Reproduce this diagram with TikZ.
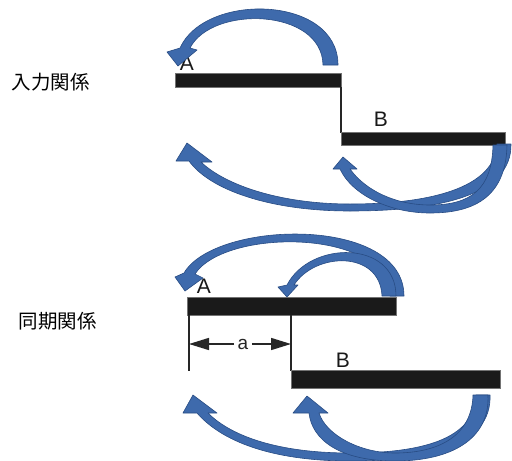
\documentclass[tikz,border=0pt]{standalone}
\usepackage{fontspec}
\setmainfont{Liberation Sans}
\newfontfamily\jp{Noto Sans CJK JP}
\usetikzlibrary{arrows.meta}
\definecolor{arrowblue}{RGB}{62,106,172}
\definecolor{arrowedge}{RGB}{40,76,132}
\definecolor{barfill}{RGB}{26,26,26}
\tikzset{
  blob/.style={fill=arrowblue, draw=arrowedge, line width=0.6pt, line join=round},
  bar/.style={fill=barfill, draw=black!55, line width=0.6pt},
  lead/.style={draw=black!85, line width=1.6pt},
  lbl/.style={font=\fontsize{21}{22}\selectfont, text=black!90, inner sep=0pt},
  jplbl/.style={font=\jp\fontsize{19.5}{21}\selectfont, inner sep=0pt},
  dim/.style={draw=black!85, line width=1.5pt, -{Triangle[length=20pt,width=12pt]}}
}
\begin{document}
\begin{tikzpicture}[x=1pt,y=-1pt]
\useasboundingbox (0,0) rectangle (512,461);
\fill[white] (0,0) rectangle (512,461);

% ---------- labels on the left ----------
\node[jplbl] (t1) at (51,82) {入力関係};
\node[jplbl] (t2) at (58,321) {同期関係};

% ---------- top diagram ----------
\node[lbl] (A1) at (187,63) {A};
\node[lbl] (B1) at (381,119) {B};
\fill[bar] (175,73) rectangle (341,87);
\draw[lead] (341,87) -- (341,133);
\fill[bar] (341,132) rectangle (505,145);

% top arc arrow
\path[blob] (338,65) .. controls (338,-5) and (205,-8) .. (180,48)
  -- (167,52) -- (178,66) -- (197,50) -- (190,48)
  .. controls (212,5) and (322,8) .. (323,65) -- cycle;
% big lower arrow
\path[blob] (511,144) .. controls (512,195) and (440,211) .. (350,211)
  .. controls (270,211) and (210,190) .. (189,161)
  -- (176,161) -- (187,143) -- (212,162) -- (201,162)
  .. controls (225,185) and (280,204) .. (350,204)
  .. controls (430,204) and (495,188) .. (497,144) -- cycle;
% small lower arrow
\path[blob] (507,145) .. controls (506,200) and (470,213) .. (430,213)
  .. controls (390,213) and (352,195) .. (340,169)
  -- (333,169) -- (343,157) -- (357,169) -- (350,169)
  .. controls (365,190) and (395,205) .. (430,205)
  .. controls (470,205) and (492,190) .. (493,145) -- cycle;

% ---------- bottom diagram ----------
\node[lbl] (A2) at (204,286) {A};
\node[lbl] (B2) at (343,360) {B};
\fill[bar] (187,297) rectangle (396,315);
\draw[lead] (189,315) -- (189,371);
\draw[lead] (291,315) -- (291,371);
\fill[bar] (291,370) rectangle (500,388);
\node[font=\fontsize{19}{20}\selectfont, text=black!85, inner sep=3.5pt] (a) at (243,344) {a};
\coordinate (aL) at (189,344);
\coordinate (aR) at (291,344);
\draw[dim] (a.west) -- (aL);
\draw[dim] (a.east) -- (aR);

% big top arrow
\path[blob] (404,296) .. controls (404,215) and (215,220) .. (184,273)
  -- (175,277) -- (185,291) -- (203,278) -- (195,274)
  .. controls (225,228) and (388,228) .. (390,296) -- cycle;
% small top arrow
\path[blob] (396,296) .. controls (396,240) and (310,240) .. (287,285)
  -- (278,287) -- (287,297) -- (298,285) -- (294,285)
  .. controls (315,252) and (380,250) .. (382,296) -- cycle;
% big bottom arrow
\path[blob] (490,395) .. controls (492,445) and (430,461) .. (350,461)
  .. controls (280,461) and (225,445) .. (197,413)
  -- (183,413) -- (193,395) -- (217,413) -- (208,413)
  .. controls (232,437) and (280,453) .. (350,453)
  .. controls (420,453) and (475,440) .. (476,395) -- cycle;
% small bottom arrow
\path[blob] (488,395) .. controls (490,440) and (450,461) .. (395,461)
  .. controls (340,461) and (312,440) .. (309,413)
  -- (293,413) -- (307,396) -- (328,413) -- (319,413)
  .. controls (326,435) and (360,453) .. (395,453)
  .. controls (440,453) and (472,435) .. (473,395) -- cycle;
\end{tikzpicture}
\end{document}
